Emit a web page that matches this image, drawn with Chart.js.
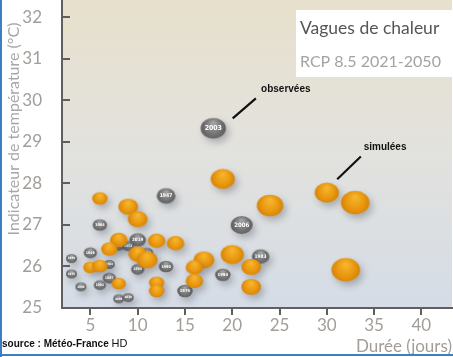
<!DOCTYPE html>
<html>
<head>
<meta charset="utf-8">
<script src="https://cdn.jsdelivr.net/npm/chart.js@4/dist/chart.umd.min.js"></script>
<style>
html, body { margin: 0; padding: 0; background: #fff; }
#wrap { width: 453px; height: 357px; }
</style>
</head>
<body>
<div id="wrap"><canvas id="myChart" width="453" height="357"></canvas></div>
<script>
// axes
var xTicks = [5, 10, 15, 20, 25, 30, 35, 40];
var yTicks = [25, 26, 27, 28, 29, 30, 31, 32];

// vagues observées (durée, température, taille, année)
var obsDuree = [18, 13, 21, 23, 19, 13, 15, 6, 10, 9, 8, 11, 5, 3, 3, 7, 10, 7, 6, 4, 8, 9];
var obsTemp  = [29.33, 27.70, 27.0, 26.24, 25.80, 26.0, 25.41, 27.0, 26.64, 26.49, 26.5, 26.33, 26.33, 26.19, 25.82, 26.05, 25.93, 25.72, 25.55, 25.51, 25.22, 25.25];
var obsTaille = [11.5, 8.5, 10, 8, 7, 6.5, 7, 6.5, 7.5, 5.5, 5.5, 5.5, 6, 5, 5, 5, 6, 6, 5.5, 5, 5, 5];
var obsAnnee = ['2003', '1947', '2006', '1983', '1994', '1990', '1976', '1964', '2019', '1952', '1957', '2015', '1949', '1959', '1975', '1982', '1998', '1987', '1991', '1995', '2005', '2010'];

// vagues simulées
var simDuree = [6, 9, 10, 8, 7, 10, 11, 5, 6, 8, 12, 12, 12, 14, 17, 16, 16, 19, 24, 20, 22, 22, 30, 33, 32];
var simTemp  = [27.64, 27.44, 27.14, 26.64, 26.42, 26.30, 26.16, 25.98, 26.01, 25.59, 25.61, 25.41, 26.62, 26.56, 26.16, 25.98, 25.65, 28.11, 27.47, 26.29, 25.99, 25.51, 27.78, 27.54, 25.92];
var simTaille = [7, 9, 9, 8, 7.5, 8.5, 9.5, 6.5, 7, 6.5, 7, 7, 8, 8, 9.5, 8, 8, 11, 12, 10.5, 9, 9, 11, 13, 13];

function points(xs, ys, rs) {
    var out = [];
    for (var i = 0; i < xs.length; i++) out.push({ x: xs[i], y: ys[i], r: rs[i] });
    return out;
}

// bulles ombrées (ellipse + dégradé)
var sprites = {};
function bulle(r, type) {
    var key = type + r;
    if (sprites[key]) return sprites[key];
    var rx = r * 1.1, ry = r * 0.9, pad = 13;
    var c = document.createElement('canvas');
    c.width = c.height = Math.ceil(2 * (rx + pad));
    var g = c.getContext('2d');
    var cx = c.width / 2, cy = c.height / 2;
    var grad = g.createRadialGradient(cx, cy - ry * 0.5, ry * 0.1, cx, cy, rx * 1.05);
    if (type == 'sim') {
        grad.addColorStop(0, '#f6b52c');
        grad.addColorStop(0.6, '#e8960f');
        grad.addColorStop(1, '#d27e05');
    } else {
        grad.addColorStop(0, '#a3a3a3');
        grad.addColorStop(0.6, '#737373');
        grad.addColorStop(1, '#585858');
    }
    g.save();
    g.shadowColor = 'rgba(70,75,90,0.35)';
    g.shadowBlur = 7;
    g.shadowOffsetX = 3;
    g.shadowOffsetY = 4;
    g.beginPath();
    g.ellipse(cx, cy, rx, ry, 0, 0, Math.PI * 2);
    g.fillStyle = grad;
    g.fill();
    g.restore();
    sprites[key] = c;
    return c;
}

var decor = {
    id: 'decor',
    beforeDraw: function (chart) {
        var ctx = chart.ctx, a = chart.chartArea;
        var grad = ctx.createLinearGradient(0, a.top, 0, a.bottom);
        grad.addColorStop(0, '#e7e0cc');
        grad.addColorStop(0.5, '#e2e2de');
        grad.addColorStop(1, '#d5dce6');
        ctx.save();
        ctx.fillStyle = grad;
        ctx.fillRect(a.left, a.top, a.right - a.left, a.bottom - a.top);
        ctx.restore();
    },
    afterDatasetDraw: function (chart, args) {
        if (args.index !== 1) return;
        var ctx = chart.ctx;
        ctx.save();
        ctx.fillStyle = '#ffffff';
        ctx.textAlign = 'center';
        ctx.textBaseline = 'middle';
        args.meta.data.forEach(function (el, i) {
            var fs = obsTaille[i] * 0.6;
            ctx.font = 'bold ' + fs + 'px "DejaVu Sans Condensed", sans-serif';
            ctx.fillText(obsAnnee[i], el.x, el.y);
        });
        ctx.restore();
    },
    afterDraw: function (chart) {
        var ctx = chart.ctx, a = chart.chartArea;
        var sx = chart.scales.x, sy = chart.scales.y;
        ctx.save();
        // petits traits de l'axe vertical, vers l'intérieur
        ctx.strokeStyle = '#5f5f5f';
        ctx.lineWidth = 2;
        yTicks.forEach(function (v) {
            var py = Math.round(sy.getPixelForValue(v));
            ctx.beginPath();
            ctx.moveTo(a.left, py);
            ctx.lineTo(a.left + 8, py);
            ctx.stroke();
        });
        // titre de l'axe vertical
        ctx.fillStyle = '#a7a7a7';
        ctx.font = '16px Lato';
        ctx.textAlign = 'center';
        ctx.textBaseline = 'middle';
        ctx.translate(14, 129);
        ctx.rotate(-Math.PI / 2);
        ctx.fillText('Indicateur de température (°C)', 0, 0);
        ctx.restore();

        // cartouche
        ctx.save();
        ctx.fillStyle = '#ffffff';
        ctx.fillRect(296, 10, 160, 67);
        ctx.textAlign = 'left';
        ctx.textBaseline = 'alphabetic';
        ctx.fillStyle = '#555555';
        ctx.font = '17.5px Lato';
        ctx.fillText('Vagues de chaleur', 300, 34);
        ctx.fillStyle = '#a3a3a3';
        ctx.font = '16px Lato';
        ctx.fillText('RCP 8.5 2021-2050', 300, 67);

        // flèches
        ctx.strokeStyle = '#111';
        ctx.lineWidth = 2.2;
        ctx.beginPath();
        ctx.moveTo(sx.getPixelForValue(20.05), sy.getPixelForValue(29.57));
        ctx.lineTo(sx.getPixelForValue(22.5), sy.getPixelForValue(30.05));
        ctx.moveTo(sx.getPixelForValue(31.1), sy.getPixelForValue(28.1));
        ctx.lineTo(sx.getPixelForValue(33.6), sy.getPixelForValue(28.65));
        ctx.stroke();
        ctx.fillStyle = '#111';
        ctx.font = 'bold 10px "Liberation Sans"';
        ctx.textBaseline = 'middle';
        ctx.fillText('observées', sx.getPixelForValue(23.05), sy.getPixelForValue(30.28));
        ctx.fillText('simulées', sx.getPixelForValue(33.9), sy.getPixelForValue(28.88));

        // source
        ctx.font = 'bold 10px "Liberation Sans"';
        ctx.fillText('source : Météo-France', 2, 344);
        var w = ctx.measureText('source : Météo-France ').width;
        ctx.font = '11px "Liberation Sans"';
        ctx.fillText('HD', 2 + w, 344);

        // cadre bleu
        ctx.fillStyle = '#3f7dc8';
        ctx.fillRect(0, 0, 2, 357);
        ctx.fillRect(0, 354, 453, 2);
        ctx.restore();
    }
};

var ctx = document.getElementById('myChart').getContext('2d');
var chart = new Chart(ctx, {
    type: 'bubble',
    data: {
        datasets: [{
            label: 'simulées',
            data: points(simDuree, simTemp, simTaille),
            pointStyle: function (c) { return bulle(c.raw.r, 'sim'); },
            borderWidth: 0
        }, {
            label: 'observées',
            data: points(obsDuree, obsTemp, obsTaille),
            pointStyle: function (c) { return bulle(c.raw.r, 'obs'); },
            borderWidth: 0
        }]
    },
    options: {
        responsive: false,
        animation: false,
        layout: { autoPadding: false, padding: { top: 0, right: 1, bottom: 0, left: 0 } },
        plugins: { legend: { display: false }, tooltip: { enabled: false } },
        scales: {
            x: {
                type: 'linear',
                min: 2,
                max: 43.24,
                afterBuildTicks: function (s) { s.ticks = xTicks.map(function (v) { return { value: v }; }); },
                afterFit: function (s) { s.height = 49; s.paddingLeft = 0; s.paddingRight = 0; },
                grid: { drawOnChartArea: false, tickLength: 7, color: '#5f5f5f', lineWidth: 2 },
                border: { color: '#5f5f5f', width: 2 },
                ticks: { color: '#a29d98', font: { family: 'Lato', size: 17 }, padding: 0, maxRotation: 0 },
                title: { display: true, text: 'Durée (jours)', align: 'end', color: '#a29d98', font: { family: 'Lato', size: 17 }, padding: { top: 0, bottom: 0 } }
            },
            y: {
                type: 'linear',
                min: 25,
                max: 32.42,
                afterBuildTicks: function (s) { s.ticks = yTicks.map(function (v) { return { value: v }; }); },
                afterFit: function (s) { s.width = 62; s.paddingTop = 0; s.paddingBottom = 0; },
                grid: { display: false },
                border: { color: '#5f5f5f', width: 2 },
                ticks: { color: '#a29d98', font: { family: 'Lato', size: 17 }, padding: 12 }
            }
        }
    },
    plugins: [decor]
});
</script>
</body>
</html>
